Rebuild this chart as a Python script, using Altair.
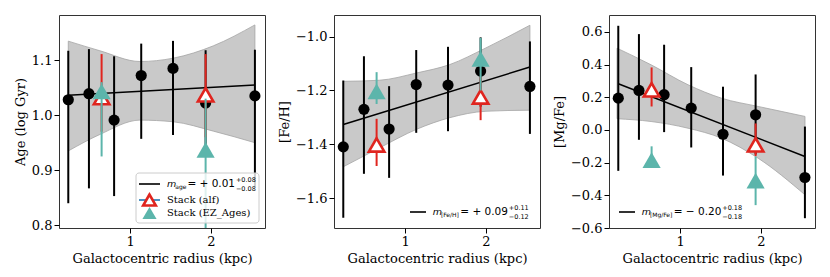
import altair as alt
import pandas as pd

# ---------------- data ----------------
R = [0.232, 0.488, 0.800, 1.136, 1.530, 1.934, 2.545]

age = [1.028, 1.039, 0.991, 1.072, 1.085, 1.022, 1.035]
age_hi = [1.117, 1.120, 1.107, 1.130, 1.135, 1.118, 1.119]
age_lo = [0.840, 0.867, 0.853, 0.957, 0.964, 0.930, 0.870]

feh = [-1.409, -1.270, -1.343, -1.178, -1.180, -1.128, -1.185]
feh_hi = [-1.163, -1.073, -1.184, -1.050, -1.038, -1.003, -1.018]
feh_lo = [-1.672, -1.509, -1.524, -1.357, -1.351, -1.260, -1.361]

mgfe = [0.195, 0.242, 0.216, 0.134, -0.026, 0.093, -0.291]
mgfe_hi = [0.638, 0.587, 0.522, 0.385, 0.265, 0.340, 0.021]
mgfe_lo = [-0.250, -0.060, -0.013, -0.107, -0.279, -0.150, -0.540]

R_stack = [0.645, 1.934]
alf_age = [1.032, 1.037]
alf_age_hi = [1.111, 1.111]
alf_age_lo = [0.970, 0.960]
ez_age = [1.043, 0.937]
ez_age_hi = [1.060, 1.030]
ez_age_lo = [0.925, 0.700]

alf_feh = [-1.402, -1.224]
alf_feh_hi = [-1.305, -1.150]
alf_feh_lo = [-1.480, -1.310]
ez_feh = [-1.203, -1.083]
ez_feh_hi = [-1.132, -1.005]
ez_feh_lo = [-1.250, -1.200]

alf_mgfe = [0.246, -0.091]
alf_mgfe_hi = [0.383, 0.040]
alf_mgfe_lo = [0.144, -0.160]
ez_mgfe = [-0.185, -0.310]
ez_mgfe_hi = [-0.100, -0.163]
ez_mgfe_lo = [-0.200, -0.460]

# fitted line end points
fit_x = [0.232, 2.545]
fit_age = [1.036, 1.055]
fit_feh = [-1.326, -1.113]
fit_mgfe = [0.283, -0.162]

# confidence bands
band_x_age = [0.232, 0.624, 1.120, 1.533, 2.030, 2.545]
band_age_hi = [1.1345, 1.117, 1.0975, 1.1036, 1.126, 1.164]
band_age_lo = [0.935, 0.965, 0.991, 0.988, 0.971, 0.950]

band_x_feh = [0.232, 0.680, 1.140, 1.550, 2.000, 2.545]
band_feh_hi = [-1.166, -1.162, -1.135, -1.104, -1.042, -0.958]
band_feh_lo = [-1.483, -1.413, -1.344, -1.301, -1.277, -1.273]

band_x_mgfe = [0.216, 0.639, 1.096, 1.510, 1.966, 2.546]
band_mgfe_hi = [0.501, 0.399, 0.277, 0.195, 0.144, 0.083]
band_mgfe_lo = [0.069, 0.052, 0.011, -0.050, -0.173, -0.397]

x_ticks = [1, 2]
age_ticks = [0.8, 0.9, 1.0, 1.1]
feh_ticks = [-1.6, -1.4, -1.2, -1.0]
mgfe_ticks = [-0.6, -0.4, -0.2, 0.0, 0.2, 0.4, 0.6]

# ---------------- styling ----------------
W, H = 206, 213
SERIF = "DejaVu Serif"
SANS = "DejaVu Sans"
RED = "#e0251f"
TEAL = "#5cb5ab"
BLUE = "#1f77b4"
BAND_FILL = "#c9c9c9"
BAND_EDGE = "#a5a5a5"
X_DOMAIN = [0.117, 2.67]


def one_row():
    return pd.DataFrame({"a": [0]})


def txt(s, x, y, size, font=SANS, italic=False):
    return alt.Chart(one_row()).mark_text(
        text=s, align="left", baseline="middle", font=font, fontSize=size,
        fontStyle="italic" if italic else "normal", color="black",
    ).encode(x=alt.value(x), y=alt.value(y))


def seg(x1, x2, y, color, width=1.6):
    return alt.Chart(one_row()).mark_rule(color=color, strokeWidth=width).encode(
        x=alt.value(x1), x2=alt.value(x2), y=alt.value(y))


def math_label(x0, y, sub, sub_w, main, sup, low):
    """m_{sub} main^{sup}_{low} built from separate text pieces."""
    x_sub = x0 + 8.2
    x_main = x_sub + sub_w + 1.0
    x_scr = x_main + 48.5
    return [
        txt("m", x0, y, 9.5, italic=True),
        txt(sub, x_sub, y + 3, 6),
        txt(main, x_main, y, 10.5),
        txt(sup, x_scr, y - 4, 6.5),
        txt(low, x_scr, y + 5, 6.5),
    ]


def panel(vals, hi, lo, s_alf, s_alf_hi, s_alf_lo, s_ez, s_ez_hi, s_ez_lo,
          fit_y, bx, bhi, blo, ydom, yticks, ytitle, legend_layers):
    xs = alt.Scale(domain=X_DOMAIN, nice=False, zero=False)
    ys = alt.Scale(domain=ydom, nice=False, zero=False)
    xaxis = alt.Axis(values=x_ticks, format="d", title="Galactocentric radius (kpc)")
    yaxis = alt.Axis(values=yticks, format=".1f", title=ytitle)

    def X(f):
        return alt.X(f, type="quantitative", scale=xs, axis=xaxis)

    def Y(f):
        return alt.Y(f, type="quantitative", scale=ys, axis=yaxis)

    band_df = pd.DataFrame({"r": bx, "lo": blo, "hi": bhi})
    band = alt.Chart(band_df).mark_area(
        color=BAND_FILL, stroke=BAND_EDGE, strokeWidth=0.8, interpolate="monotone"
    ).encode(x=X("r"), y=Y("lo"), y2="hi")

    fit_df = pd.DataFrame({"r": fit_x, "v": fit_y})
    fit = alt.Chart(fit_df).mark_line(color="black", strokeWidth=1.5).encode(
        x=X("r"), y=Y("v"))

    main_df = pd.DataFrame({"r": R, "v": vals, "lo": lo, "hi": hi})
    main_err = alt.Chart(main_df).mark_rule(color="black", strokeWidth=2).encode(
        x=X("r"), y=Y("lo"), y2="hi")
    main_pts = alt.Chart(main_df).mark_circle(color="black", size=125, opacity=1).encode(
        x=X("r"), y=Y("v"))

    alf_df = pd.DataFrame({"r": R_stack, "v": s_alf, "lo": s_alf_lo, "hi": s_alf_hi})
    alf_err = alt.Chart(alf_df).mark_rule(color=RED, strokeWidth=2, clip=True).encode(
        x=X("r"), y=Y("lo"), y2="hi")
    alf_pts = alt.Chart(alf_df).mark_point(
        shape="triangle-up", size=240, filled=True, fill="white", stroke=RED,
        strokeWidth=2.6, opacity=1).encode(x=X("r"), y=Y("v"))

    ez_df = pd.DataFrame({"r": R_stack, "v": s_ez, "lo": s_ez_lo, "hi": s_ez_hi})
    ez_err = alt.Chart(ez_df).mark_rule(color=TEAL, strokeWidth=2, clip=True).encode(
        x=X("r"), y=Y("lo"), y2="hi")
    ez_pts = alt.Chart(ez_df).mark_point(
        shape="triangle-up", size=330, filled=True, color=TEAL, opacity=1).encode(
        x=X("r"), y=Y("v"))

    layers = [band, fit, main_err, main_pts, alf_err, alf_pts, ez_err, ez_pts] + legend_layers
    return alt.layer(*layers).properties(width=W, height=H)


# ---------------- legends ----------------
legend_box = alt.Chart(one_row()).mark_rect(
    fill="white", fillOpacity=0.8, stroke="#cccccc", strokeWidth=1, cornerRadius=3
).encode(x=alt.value(77), x2=alt.value(200), y=alt.value(158), y2=alt.value(208))

leg1 = [
    legend_box,
    seg(80, 101, 169, "black"),
    *math_label(108, 169, "age", 11.2, "= + 0.01", "+0.08", "\u22120.08"),
    seg(80, 101, 185, BLUE),
    alt.Chart(one_row()).mark_point(shape="triangle-up", size=160, filled=True, fill="white",
                                    stroke=RED, strokeWidth=2.6, opacity=1).encode(
        x=alt.value(90.5), y=alt.value(185)),
    txt("Stack (alf)", 108, 185, 10, font=SERIF),
    alt.Chart(one_row()).mark_point(shape="triangle-up", size=200, filled=True, color=TEAL,
                                    opacity=1).encode(x=alt.value(90.5), y=alt.value(198)),
    txt("Stack (EZ_Ages)", 108, 198, 10, font=SERIF),
]

leg2 = [
    seg(76, 92, 197, "black"),
    *math_label(98.7, 197, "[Fe/H]", 18.4, "= + 0.09", "+0.11", "\u22120.12"),
]

leg3 = [
    seg(10, 26, 197, "black"),
    *math_label(32.7, 197, "[Mg/Fe]", 22.8, "= \u2212 0.20", "+0.18", "\u22120.18"),
]

p1 = panel(age, age_hi, age_lo, alf_age, alf_age_hi, alf_age_lo, ez_age, ez_age_hi, ez_age_lo,
           fit_age, band_x_age, band_age_hi, band_age_lo, [0.795, 1.182], age_ticks,
           "Age (log Gyr)", leg1)
p2 = panel(feh, feh_hi, feh_lo, alf_feh, alf_feh_hi, alf_feh_lo, ez_feh, ez_feh_hi, ez_feh_lo,
           fit_feh, band_x_feh, band_feh_hi, band_feh_lo, [-1.71, -0.92], feh_ticks,
           "[Fe/H]", leg2)
p3 = panel(mgfe, mgfe_hi, mgfe_lo, alf_mgfe, alf_mgfe_hi, alf_mgfe_lo, ez_mgfe, ez_mgfe_hi,
           ez_mgfe_lo, fit_mgfe, band_x_mgfe, band_mgfe_hi, band_mgfe_lo, [-0.6, 0.704],
           mgfe_ticks, "[Mg/Fe]", leg3)

chart = alt.hconcat(p1, p2, p3, spacing=11).properties(
    padding={"left": 5, "top": 6, "right": 5, "bottom": 5},
    background="white",
).configure_view(
    stroke="#333333", strokeWidth=1
).configure_axis(
    grid=False, domain=False,
    labelFont=SERIF, titleFont=SERIF, labelFontSize=13, titleFontSize=13,
    labelColor="black", titleColor="black", tickColor="black",
    titleFontWeight="normal", tickSize=5, tickWidth=1, labelPadding=2,
).configure_axisY(titlePadding=4).configure_axisX(titlePadding=4)

chart.save("out.html", embed_options={"renderer": "svg", "actions": False})
